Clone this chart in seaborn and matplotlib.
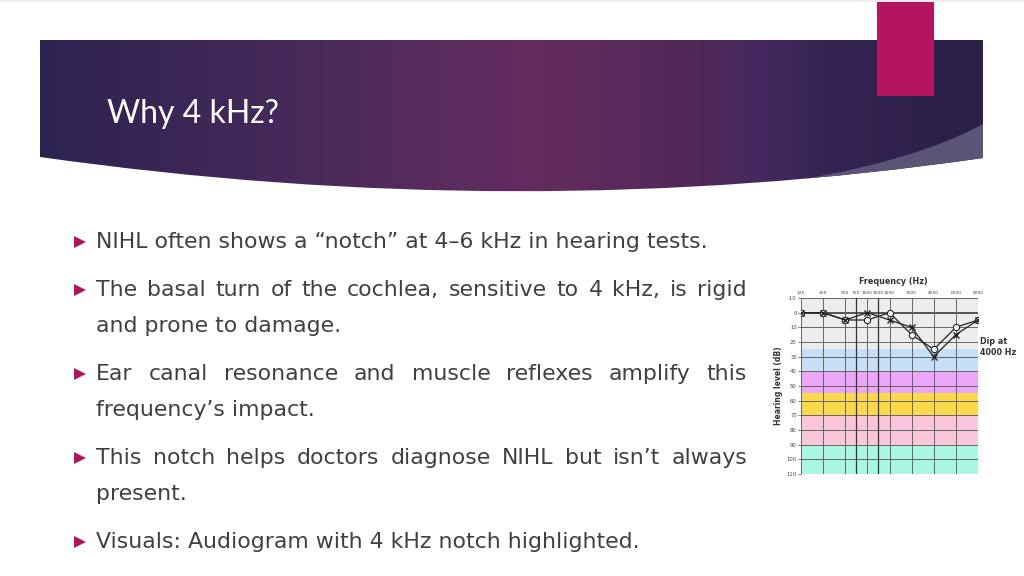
import numpy as np
import pandas as pd
import matplotlib
matplotlib.use("Agg")
import matplotlib.pyplot as plt
import seaborn as sns
from matplotlib.path import Path
from matplotlib.patches import PathPatch, Rectangle, Polygon
from matplotlib.colors import LinearSegmentedColormap

# ---------------------------------------------------------
# Data
# ---------------------------------------------------------
freq_labels = ["125", "250", "500", "750", "1000", "1500", "2000",
               "3000", "4000", "6000", "8000"]
freq_pos = [0, 1, 2, 2.5, 3, 3.5, 4, 5, 6, 7, 8]
test_freqs = ["125", "250", "500", "1000", "2000", "3000", "4000", "6000", "8000"]
ear_o = [0, 0, 5, 5, 0, 15, 25, 10, 5]     # circles
ear_x = [0, 0, 5, 0, 5, 10, 30, 15, 5]     # crosses
db_ticks = list(range(-10, 111, 10))
bands = [(-10, 25, "#ececec"), (25, 40, "#c6def6"), (40, 55, "#eba6f7"),
         (55, 70, "#fcd94c"), (70, 90, "#f9c6dc"), (90, 110, "#a9f6e2")]

title = "Why 4 kHz?"
bullets = [
    ["NIHL often shows a \u201cnotch\u201d at 4\u20136 kHz in hearing tests."],
    ["The basal turn of the cochlea, sensitive to 4 kHz, is rigid",
     "and prone to damage."],
    ["Ear canal resonance and muscle reflexes amplify this",
     "frequency\u2019s impact."],
    ["This notch helps doctors diagnose NIHL but isn\u2019t always",
     "present."],
    ["Visuals: Audiogram with 4 kHz notch highlighted."],
]
bullet_y = [242, 290, 374, 458, 542]

sns.set_style("white")
plt.rcParams["font.family"] = ["DejaVu Sans"]
plt.rcParams["axes.unicode_minus"] = False

W, H = 1024, 576
fig = plt.figure(figsize=(W / 100, H / 100), dpi=100)
bg = fig.add_axes([0, 0, 1, 1])
bg.set_xlim(0, W)
bg.set_ylim(H, 0)
bg.axis("off")

# ---------------------------------------------------------
# Banner
# ---------------------------------------------------------
banner = Path([(40, 40), (983, 40), (983, 158), (520, 225), (40, 157), (40, 40)],
              [Path.MOVETO, Path.LINETO, Path.LINETO, Path.CURVE3, Path.CURVE3,
               Path.CLOSEPOLY])
clip = PathPatch(banner, transform=bg.transData, facecolor="none", edgecolor="none")
bg.add_patch(clip)
cmap = LinearSegmentedColormap.from_list("banner", [
    (0.0, "#2d2350"), (0.3, "#4a2a5b"), (0.52, "#652c60"), (0.7, "#502757"),
    (0.76, "#46295f"), (0.85, "#332350"), (1.0, "#2a2048")])
grad = np.tile(np.linspace(0, 1, 512), (20, 1))
im = bg.imshow(grad, cmap=cmap, extent=(40, 983, 230, 40), aspect="auto", zorder=1)
im.set_clip_path(clip)

swoosh = Path([(690, 194), (890, 175), (983, 124), (983, 160), (790, 190), (690, 194)],
              [Path.MOVETO, Path.CURVE3, Path.CURVE3, Path.LINETO, Path.CURVE3,
               Path.CURVE3])
sw = PathPatch(swoosh, facecolor="#5c5477", edgecolor="none", zorder=2)
bg.add_patch(sw)
sw.set_clip_path(clip)

bg.add_patch(Rectangle((877, 0), 57, 96, facecolor="#b5145f", edgecolor="none", zorder=3))
bg.add_patch(Rectangle((0, 0), W, 2, facecolor="#eeeeee", edgecolor="none", zorder=3))

bg.text(107, 114, title, fontsize=23, color="white", va="center", ha="left",
        fontfamily=["Lato", "DejaVu Sans"], zorder=4)

# ---------------------------------------------------------
# Bullet text (justified to the column edge)
# ---------------------------------------------------------
renderer = fig.canvas.get_renderer()
text_kw = dict(fontsize=15.8, color="#404040", va="center", ha="left")
x0, x1 = 96, 747


def text_width(s):
    t = bg.text(0, 0, s, **text_kw)
    w = t.get_window_extent(renderer).width
    t.remove()
    return w


def draw_line(s, y, justify):
    if not justify:
        bg.text(x0, y, s, **text_kw)
        return
    words = s.split(" ")
    widths = [text_width(w) for w in words]
    gap = (x1 - x0 - sum(widths)) / (len(words) - 1)
    x = x0
    for w, wd in zip(words, widths):
        bg.text(x, y, w, **text_kw)
        x += wd + gap


for lines, y in zip(bullets, bullet_y):
    bg.add_patch(Polygon([(74, y - 6), (74, y + 6), (86, y)], closed=True,
                         facecolor="#b0155f", edgecolor="none"))
    for i, line in enumerate(lines):
        draw_line(line, y + 36 * i, justify=(len(lines) > 1 and i == 0))

# ---------------------------------------------------------
# Audiogram
# ---------------------------------------------------------
ax = fig.add_axes([801 / W, 1 - 474 / H, 177 / W, 176 / H])
for lo, hi, c in bands:
    ax.axhspan(lo, hi, color=c, lw=0, zorder=0)
for y in db_ticks:
    ax.axhline(y, color="#3a3a3a" if y == 0 else "#666666",
               lw=1.2 if y == 0 else 0.7, zorder=1)
for p in freq_pos:
    ax.axvline(p, color="#333333" if p in (2.5, 3.5) else "#666666",
               lw=0.9 if p in (2.5, 3.5) else 0.7, zorder=1)

pos_map = dict(zip(freq_labels, freq_pos))
df = pd.DataFrame({
    "pos": [pos_map[f] for f in test_freqs] * 2,
    "db": ear_o + ear_x,
    "ear": ["O"] * len(ear_o) + ["X"] * len(ear_x),
})
sns.lineplot(data=df[df.ear == "O"], x="pos", y="db", ax=ax, color="#222222",
             lw=0.9, marker="o", markersize=4.5, markerfacecolor="white",
             markeredgecolor="#222222", markeredgewidth=0.8, zorder=3)
sns.lineplot(data=df[df.ear == "X"], x="pos", y="db", ax=ax, color="#222222",
             lw=0.9, marker="x", markersize=5, markeredgecolor="#222222",
             markeredgewidth=1.0, zorder=4)

ax.set_xlim(0, 8)
ax.set_ylim(110, -10)
ax.set_xticks(freq_pos)
ax.set_xticklabels(freq_labels)
ax.set_yticks(db_ticks)
ax.xaxis.tick_top()
ax.tick_params(axis="x", labelsize=3.2, length=0, pad=2, colors="#444444")
ax.tick_params(axis="y", labelsize=3.8, length=2, width=0.5, pad=1,
               colors="#444444", left=True)
ax.set_xlabel("")
ax.set_ylabel("Hearing level (dB)", fontsize=5.5, fontweight="bold",
              color="#333333", labelpad=3)
for s in ax.spines.values():
    s.set_visible(False)

bg.text(893, 282, "Frequency (Hz)", fontsize=5.8, fontweight="bold",
        color="#333333", ha="center", va="center")
bg.text(980, 347, "Dip at\n4000 Hz", fontsize=5.8, fontweight="bold",
        color="#333333", ha="left", va="center", linespacing=1.3)

fig.savefig("out.png", dpi=100)
